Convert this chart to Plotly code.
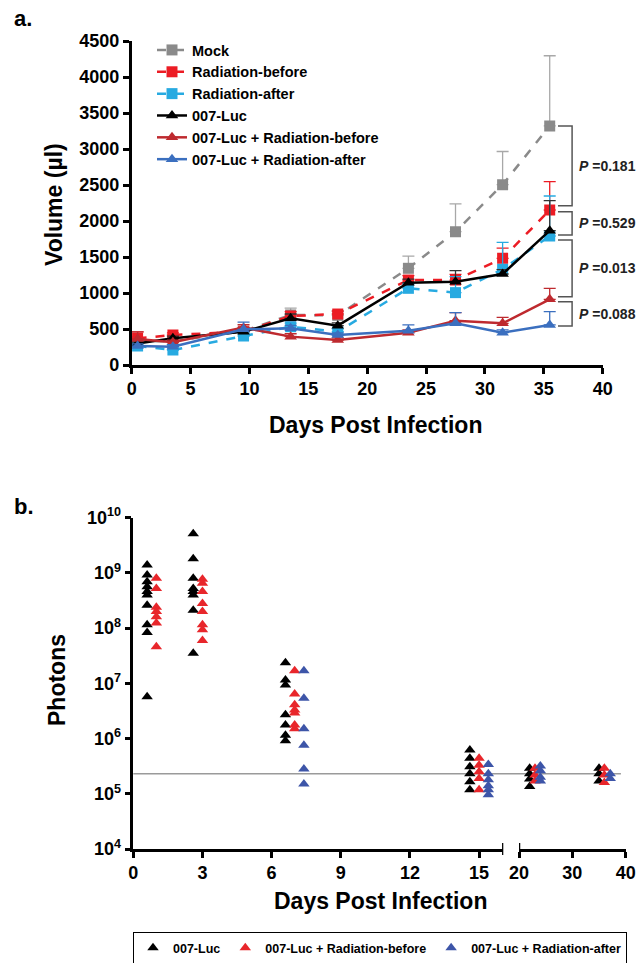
import plotly.graph_objects as go

W, H = 637, 963

# ---------------- Panel a data ----------------
DAYS_A = [0.5, 3.5, 9.5, 13.5, 17.5, 23.5, 27.5, 31.5, 35.5]

MOCK = [330, 330, 470, 695, 690, 1343, 1852, 2505, 3320]
MOCK_ERR = [40, 40, 60, 95, 60, 170, 385, 460, 975]

RAD_BEFORE = [370, 417, 463, 680, 708, 1180, 1180, 1482, 2153]
RAD_BEFORE_ERR = [90, 30, 40, 60, 40, 60, 80, 140, 395]

RAD_AFTER = [265, 208, 403, 532, 463, 1065, 1005, 1329, 1792]
RAD_AFTER_ERR = [30, 30, 40, 50, 40, 60, 222, 375, 555]

LUC = [300, 370, 463, 648, 546, 1143, 1157, 1264, 1866]
LUC_ERR = [20, 30, 50, 60, 40, 50, 153, 60, 416]

LUC_RB = [360, 315, 519, 394, 347, 449, 616, 579, 912]
LUC_RB_ERR = [100, 30, 40, 40, 30, 40, 111, 83, 153]

LUC_RA = [264, 254, 495, 509, 417, 477, 579, 449, 556]
LUC_RA_ERR = [30, 30, 100, 40, 30, 79, 148, 40, 185]

P_LABELS = ["0.181", "0.529", "0.013", "0.088"]
P_SPANS = [(3320, 2213), (2130, 1806), (1736, 949), (880, 541)]

Y_TICKS_A = [0, 500, 1000, 1500, 2000, 2500, 3000, 3500, 4000, 4500]
X_TICKS_A = [0, 5, 10, 15, 20, 25, 30, 35, 40]

# ---------------- Panel b data ----------------
LUC_B_DAYS = [0.6, 2.6, 6.6, 14.6, 22.0, 35.0]
LUC_B = [
    [1.39e9, 9.2e8, 6.9e8, 5.6e8, 4.6e8, 4.0e8, 2.6e8, 1.15e8, 8.3e7, 5.7e6],
    [5.1e9, 1.8e9, 8.0e8, 5.2e8, 4.6e8, 4.0e8, 2.1e8, 3.5e7],
    [2.36e7, 1.15e7, 9.3e6, 2.7e6, 1.76e6, 1.15e6, 9.1e5],
    [6.2e5, 4.4e5, 3.1e5, 2.3e5, 1.66e5, 1.18e5],
    [2.9e5, 2.3e5, 1.85e5, 1.35e5],
    [2.9e5, 2.3e5, 1.7e5],
]
RB_B_DAYS = [1.0, 3.0, 7.0, 15.0, 23.0, 36.0]
RB_B = [
    [8.0e8, 5.2e8, 2.4e8, 2.0e8, 1.6e8, 1.24e8, 4.6e7],
    [7.7e8, 6.5e8, 4.6e8, 2.8e8, 2.0e8, 1.15e8, 9.3e7, 6.0e7],
    [1.7e7, 6.4e6, 4.1e6, 3.3e6, 2.9e6, 1.76e6, 1.5e6],
    [4.4e5, 3.3e5, 2.5e5, 1.9e5, 1.18e5],
    [2.9e5, 2.2e5, 1.7e5],
    [2.9e5, 2.2e5, 1.6e5],
]
RA_B_DAYS = [7.4, 15.4, 24.0, 37.1]
RA_B = [
    [1.7e7, 5.4e6, 1.5e6, 7.6e5, 2.8e5, 1.5e5],
    [3.4e5, 2.3e5, 1.8e5, 1.4e5, 1.18e5, 9.6e4],
    [3.2e5, 2.6e5, 2.0e5, 1.7e5],
    [2.3e5, 1.9e5],
]
DETECTION_LIMIT = 2.3e5
X_TICKS_B1 = [0, 3, 6, 9, 12, 15]
X_TICKS_B2 = [20, 30, 40]
Y_TICKS_B = [1e4, 1e5, 1e6, 1e7, 1e8, 1e9, 1e10]
Y_TICKTEXT_B = ["10<sup>%d</sup>" % e for e in range(4, 11)]

# ---------------- Styles ----------------
FONT = "Liberation Sans, Arial, sans-serif"
C_MOCK = "#8a8a8a"
C_RED = "#ec1c24"
C_LBLUE = "#27aae1"
C_BLACK = "#000000"
C_DRED = "#be2a2f"
C_BLUE = "#3b6fbf"
C_B_RED = "#e8262b"
C_B_BLUE = "#3d55a8"


def px_x(p):
    return p / W


def px_y(p):
    return 1 - p / H


fig = go.Figure()

series_a = [
    ("Mock", MOCK, MOCK_ERR, C_MOCK, "#a8a8a8", "dash", "square"),
    ("Radiation-before", RAD_BEFORE, RAD_BEFORE_ERR, C_RED, C_RED, "dash", "square"),
    ("Radiation-after", RAD_AFTER, RAD_AFTER_ERR, C_LBLUE, C_LBLUE, "dash", "square"),
    ("007-Luc", LUC, LUC_ERR, C_BLACK, "#333333", "solid", "triangle-up"),
    ("007-Luc + Radiation-before", LUC_RB, LUC_RB_ERR, C_DRED, C_DRED, "solid", "triangle-up"),
    ("007-Luc + Radiation-after", LUC_RA, LUC_RA_ERR, C_BLUE, C_BLUE, "solid", "triangle-up"),
]
for name, vals, errs, col, ecol, dash, sym in series_a:
    fig.add_trace(go.Scatter(
        x=DAYS_A, y=vals, name=name, mode="lines+markers",
        line=dict(color=col, width=2.5, dash=dash),
        marker=dict(symbol=sym, size=11, color=col),
        error_y=dict(type="data", array=errs, arrayminus=[0] * len(errs), symmetric=False,
                     color=ecol, thickness=1.3, width=6),
        xaxis="x", yaxis="y", legend="legend",
    ))


def expand(days, groups):
    xs, ys = [], []
    for d, g in zip(days, groups):
        for v in g:
            xs.append(d)
            ys.append(v)
    return xs, ys


series_b = [
    ("007-Luc", LUC_B_DAYS, LUC_B, C_BLACK),
    ("007-Luc + Radiation-before", RB_B_DAYS, RB_B, C_B_RED),
    ("007-Luc + Radiation-after", RA_B_DAYS, RA_B, C_B_BLUE),
]
for name, days, groups, col in series_b:
    xs, ys = expand(days, groups)
    x1 = [x for x in xs if x < 18]
    y1 = [y for x, y in zip(xs, ys) if x < 18]
    x2 = [x for x in xs if x >= 18]
    y2 = [y for x, y in zip(xs, ys) if x >= 18]
    fig.add_trace(go.Scatter(
        x=x1, y=y1, name=name, mode="markers",
        marker=dict(symbol="triangle-up", size=10, color=col),
        xaxis="x2", yaxis="y2", legend="legend2", legendgroup=name,
    ))
    fig.add_trace(go.Scatter(
        x=x2, y=y2, name=name, mode="markers",
        marker=dict(symbol="triangle-up", size=10, color=col),
        xaxis="x3", yaxis="y2", legend="legend2", legendgroup=name, showlegend=False,
    ))

axis_common = dict(
    showline=True, linecolor="black", linewidth=2.5, ticks="outside",
    ticklen=6, tickwidth=2.5, tickcolor="black", showgrid=False, zeroline=False,
    tickfont=dict(family=FONT, size=18, color="black", weight="bold"),
)

XA_DOM = [px_x(131.7), px_x(602.7)]
YA_DOM = [px_y(365), px_y(41)]
XB1_DOM = [px_x(133.3), px_x(503.3)]
XB2_DOM = [px_x(519), px_x(625.7)]
YB_DOM = [px_y(849), px_y(517.7)]

fig.update_layout(
    width=W, height=H, margin=dict(l=0, r=0, t=0, b=0, autoexpand=False),
    paper_bgcolor="white", plot_bgcolor="rgba(0,0,0,0)",
    xaxis=dict(domain=XA_DOM, range=[0, 40], tickvals=X_TICKS_A, anchor="y", **axis_common),
    yaxis=dict(domain=YA_DOM, range=[0, 4500], tickvals=Y_TICKS_A, anchor="x", **axis_common),
    xaxis2=dict(domain=XB1_DOM, range=[0, 16.05], tickvals=X_TICKS_B1, anchor="y2", **axis_common),
    xaxis3=dict(domain=XB2_DOM, range=[20, 40], tickvals=X_TICKS_B2, anchor="y2", **axis_common),
    yaxis2=dict(domain=YB_DOM, type="log", range=[4, 10], tickvals=Y_TICKS_B,
                ticktext=Y_TICKTEXT_B, anchor="x2", **axis_common),
    legend=dict(x=px_x(152), y=px_y(34), xanchor="left", yanchor="top",
                bgcolor="rgba(0,0,0,0)", font=dict(family=FONT, size=14.5, color="black", weight="bold"),
                tracegroupgap=0),
    legend2=dict(orientation="h", x=px_x(380), y=px_y(948), xanchor="center", yanchor="middle",
                 bgcolor="white", bordercolor="black", borderwidth=1,
                 font=dict(family=FONT, size=12.5, color="black", weight="bold")),
    showlegend=True,
)

shapes = []
# P-value brackets
BX0, BX1 = 36.2, 37.4
for (ytop, ybot) in P_SPANS:
    shapes.append(dict(type="path", xref="x", yref="y",
                       path="M %s,%s L %s,%s L %s,%s L %s,%s" % (BX0, ytop, BX1, ytop, BX1, ybot, BX0, ybot),
                       line=dict(color="#555555", width=1.5)))
# detection limit line spanning the broken axis
x_end_frac = XB2_DOM[0] + (39.1 - 20) / 20 * (XB2_DOM[1] - XB2_DOM[0])
shapes.append(dict(type="line", xref="paper", yref="y2", x0=XB1_DOM[0], x1=x_end_frac,
                   y0=DETECTION_LIMIT, y1=DETECTION_LIMIT, line=dict(color="#9a9a9a", width=1.5),
                   layer="below"))
# axis break caps
for xr, xv in (("x2", 16.05), ("x3", 20)):
    shapes.append(dict(type="line", xref=xr, yref="paper", x0=xv, x1=xv,
                       y0=px_y(843), y1=px_y(855), line=dict(color="black", width=2.5)))
fig.update_layout(shapes=shapes)

annots = []
for (ytop, ybot), lab in zip(P_SPANS, P_LABELS):
    annots.append(dict(x=37.8, y=(ytop + ybot) / 2, xref="x", yref="y", xanchor="left",
                       yanchor="middle", showarrow=False, text="<i>P</i> =" + lab,
                       font=dict(family=FONT, size=14, color="#222222", weight="bold")))
title_font = dict(family=FONT, size=23, color="black", weight="bold")
annots += [
    dict(x=px_x(12), y=px_y(19), xref="paper", yref="paper", text="a.", showarrow=False,
         xanchor="left", yanchor="middle", font=dict(family=FONT, size=22, color="black", weight="bold")),
    dict(x=px_x(12), y=px_y(507), xref="paper", yref="paper", text="b.", showarrow=False,
         xanchor="left", yanchor="middle", font=dict(family=FONT, size=22, color="black", weight="bold")),
    dict(x=px_x(54), y=px_y(205), xref="paper", yref="paper", text="Volume (µl)", showarrow=False,
         textangle=-90, xanchor="center", yanchor="middle", font=title_font),
    dict(x=px_x(375), y=px_y(425), xref="paper", yref="paper", text="Days Post Infection",
         showarrow=False, xanchor="center", yanchor="middle", font=title_font),
    dict(x=px_x(57), y=px_y(680), xref="paper", yref="paper", text="Photons", showarrow=False,
         textangle=-90, xanchor="center", yanchor="middle", font=title_font),
    dict(x=px_x(380), y=px_y(901), xref="paper", yref="paper", text="Days Post Infection",
         showarrow=False, xanchor="center", yanchor="middle", font=title_font),
]
fig.update_layout(annotations=annots)

fig.write_html("out.html", config={"displayModeBar": False},
               post_script="document.body.style.margin='0px';document.body.style.overflow='hidden';")
